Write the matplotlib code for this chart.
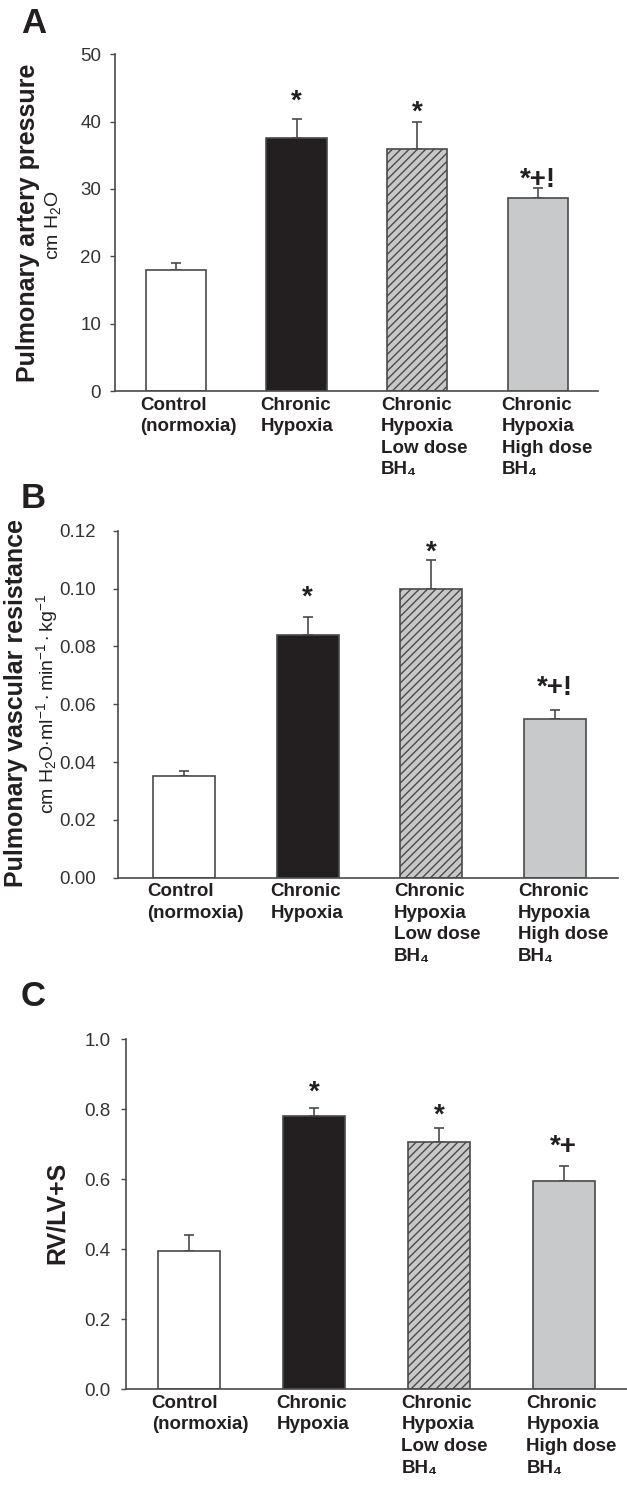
import matplotlib
matplotlib.use('Agg')
import matplotlib.pyplot as plt
import numpy as np

plt.rcParams['font.family'] = ['Liberation Sans', 'DejaVu Sans']
plt.rcParams['mathtext.fontset'] = 'custom'
plt.rcParams['mathtext.rm'] = 'Liberation Sans'
plt.rcParams['mathtext.it'] = 'Liberation Sans'
plt.rcParams['mathtext.bf'] = 'Liberation Sans:bold'
plt.rcParams['hatch.linewidth'] = 1.0

# groups on the x axis
groups = ['Control\n(normoxia)',
          'Chronic\nHypoxia',
          'Chronic\nHypoxia\nLow dose\nBH\u2084',
          'Chronic\nHypoxia\nHigh dose\nBH\u2084']

# A: pulmonary artery pressure (cm H2O)
pap_mean = [18.0, 37.6, 36.0, 28.6]
pap_err = [1.0, 2.8, 4.0, 1.6]
pap_sig = ['', '*', '*', '*+!']
pap_sig_y = [0, 42.0, 40.3, 30.3]

# B: pulmonary vascular resistance
pvr_mean = [0.035, 0.084, 0.100, 0.055]
pvr_err = [0.002, 0.006, 0.010, 0.003]
pvr_sig = ['', '*', '*', '*+!']
pvr_sig_y = [0, 0.0945, 0.1101, 0.0632]

# C: RV/LV+S
rv_mean = [0.396, 0.780, 0.707, 0.594]
rv_err = [0.045, 0.023, 0.039, 0.045]
rv_sig = ['', '*', '*', '*+']
rv_sig_y = [0, 0.829, 0.762, 0.672]

fills = ['white', '#231f20', '#c8c8c8', '#c8c9cb']
hatches = [None, None, '////', None]
edge = '#4a4a4a'
ink = '#231f20'

W, H = 627, 1489
fig = plt.figure(figsize=(W / 100, H / 100), dpi=100)


def px(x0, y_top, x1, y_bot):
    return [x0 / W, 1 - y_bot / H, (x1 - x0) / W, (y_bot - y_top) / H]


def panel(rect, means, errs, sig, sig_y, ticks, fmt, xlim, pad):
    ax = fig.add_axes(rect)
    x = np.arange(len(means))
    ax.bar(x, means, width=0.5, color=fills, edgecolor=edge, linewidth=1.2,
           hatch=hatches, zorder=2)
    ax.errorbar(x, means, yerr=[np.zeros(len(errs)), errs], fmt='none',
                ecolor=edge, elinewidth=1.2, capsize=3.6, capthick=1.2, zorder=1)
    ax.set_xlim(*xlim)
    ax.set_ylim(ticks[0], ticks[-1])
    ax.set_yticks(ticks)
    ax.set_yticklabels([fmt % t for t in ticks])
    ax.set_xticks([])
    for s in ['top', 'right']:
        ax.spines[s].set_visible(False)
    for s in ['left', 'bottom']:
        ax.spines[s].set_color(edge)
        ax.spines[s].set_linewidth(1.2)
    ax.tick_params(axis='y', direction='out', length=3.6, width=1.0,
                   color=edge, labelsize=13.5, labelcolor='#333333', pad=pad)
    for i, g in enumerate(groups):
        ax.annotate(g, xy=(x[i] - 0.30, 0), xycoords=('data', 'axes fraction'),
                    xytext=(0, -4), textcoords='offset points',
                    ha='left', va='top', fontsize=13.5, fontweight='bold',
                    color=ink, linespacing=1.35)
    for i, s in enumerate(sig):
        if s:
            ax.text(x[i], sig_y[i], s, ha='center', va='baseline',
                    fontsize=20, fontweight='bold', color=ink)
    return ax


panel(px(115.2, 54.3, 598, 391), pap_mean, pap_err, pap_sig, pap_sig_y,
      [0, 10, 20, 30, 40, 50], '%d', (-0.505, 3.50), 6.5)
panel(px(118, 530.7, 618, 877.7), pvr_mean, pvr_err, pvr_sig, pvr_sig_y,
      [0, 0.02, 0.04, 0.06, 0.08, 0.10, 0.12], '%.2f', (-0.534, 3.51), 12)
panel(px(126.4, 1039.3, 627, 1389.3), rv_mean, rv_err, rv_sig, rv_sig_y,
      [0, 0.2, 0.4, 0.6, 0.8, 1.0], '%.1f', (-0.503, 3.506), 8)

# panel letters
for letter, base in [('A', 33.3), ('B', 508), ('C', 1005.5)]:
    fig.text(21 / W, 1 - base / H, letter, fontsize=25, fontweight='bold',
             color=ink, va='baseline', ha='left')

# y axis titles
fig.text(28 / W, 1 - 223 / H, 'Pulmonary artery pressure', rotation=90,
         ha='center', va='center', fontsize=18, fontweight='bold', color=ink)
fig.text(53 / W, 1 - 225 / H, 'cm H$_2$O', rotation=90,
         ha='center', va='center', fontsize=14, color=ink)
fig.text(16 / W, 1 - 703 / H, 'Pulmonary vascular resistance', rotation=90,
         ha='center', va='center', fontsize=18, fontweight='bold', color=ink)
fig.text(47 / W, 1 - 703.5 / H,
         'cm H$_2$O$\\cdot$ml$^{-1}\\cdot$min$^{-1}\\cdot$kg$^{-1}$',
         rotation=90, ha='center', va='center', fontsize=14, color=ink)
fig.text(57 / W, 1 - 1213 / H, 'RV/LV+S', rotation=90,
         ha='center', va='center', fontsize=18, fontweight='bold', color=ink)

fig.savefig('out.png', dpi=100)
plt.close(fig)
print("Graph saved: out.png")
